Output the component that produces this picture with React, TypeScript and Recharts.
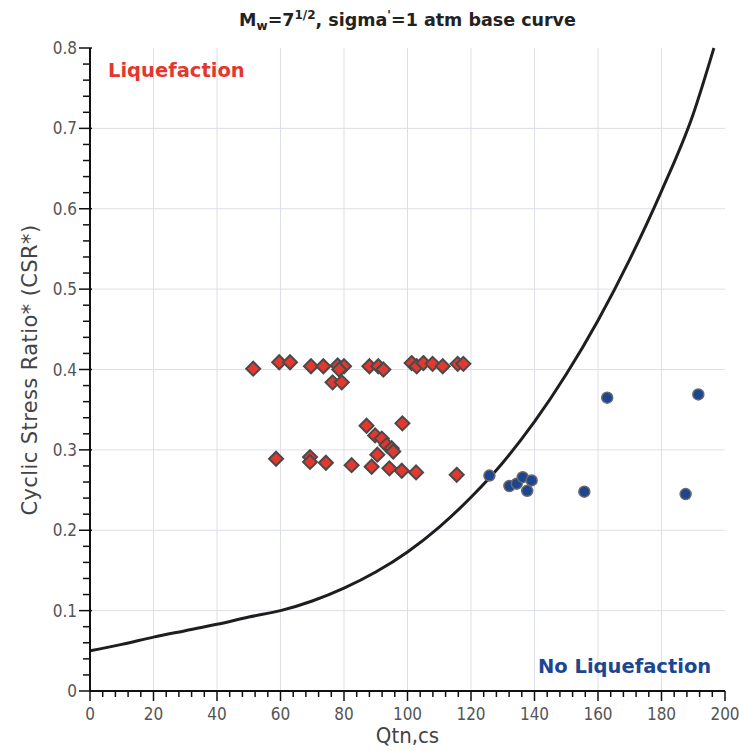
import React from "react"
import {
  ComposedChart,
  Line,
  Scatter,
  XAxis,
  YAxis,
  ReferenceLine,
} from "recharts"

// base curve (Qtn,cs vs CSR*)
const curveQ = [0, 10, 20, 30, 40, 50, 60, 70, 80, 90, 100, 110, 120, 130, 140, 150, 160, 170, 180, 190, 196.5]
const curveCSR = [0.05, 0.058, 0.067, 0.075, 0.083, 0.092, 0.1, 0.112, 0.128, 0.148, 0.173, 0.204, 0.241, 0.284, 0.335, 0.394, 0.461, 0.537, 0.622, 0.718, 0.8]

// liquefaction cases (red diamonds)
const liqQ = [51.4, 59.6, 63.0, 69.6, 73.5, 78.0, 80.0, 78.5, 76.4, 79.3, 88.0, 90.8, 92.4, 101.3, 102.9, 105.0, 107.9, 111.1, 115.8, 117.6,
  87.1, 98.4, 89.8, 91.9, 93.4, 95.0, 95.5, 90.5, 58.6, 69.3, 69.3, 74.3, 82.4, 88.7, 94.3, 98.2, 102.7, 115.5]
const liqCSR = [0.401, 0.409, 0.409, 0.404, 0.404, 0.405, 0.404, 0.4, 0.384, 0.384, 0.404, 0.404, 0.4, 0.408, 0.404, 0.408, 0.407, 0.404, 0.407, 0.407,
  0.33, 0.333, 0.318, 0.314, 0.306, 0.302, 0.298, 0.294, 0.289, 0.291, 0.285, 0.284, 0.281, 0.279, 0.277, 0.274, 0.272, 0.269]

// no liquefaction cases (blue circles)
const noLiqQ = [125.8, 132.1, 134.4, 136.3, 139.1, 137.7, 155.7, 162.9, 191.6, 187.6]
const noLiqCSR = [0.268, 0.255, 0.258, 0.266, 0.262, 0.249, 0.248, 0.365, 0.369, 0.245]

const xMajor = [0, 20, 40, 60, 80, 100, 120, 140, 160, 180, 200]
const yMajor = [0, 0.1, 0.2, 0.3, 0.4, 0.5, 0.6, 0.7, 0.8]
const xMinor = Array.from({ length: 51 }, (_, i) => i * 4)
const yMinor = Array.from({ length: 41 }, (_, i) => Math.round(i * 2) / 100)
const xTop = Array.from({ length: 15 }, (_, i) => (i + 1) * 12.5)
const yRight = Array.from({ length: 31 }, (_, i) => Math.round((i + 1) * 25) / 1000)

const curve = curveQ.map((q, i) => ({ x: q, y: curveCSR[i] }))
const liq = liqQ.map((q, i) => ({ x: q, y: liqCSR[i] }))
const noLiq = noLiqQ.map((q, i) => ({ x: q, y: noLiqCSR[i] }))

const TICK_FONT = "'DejaVu Sans Condensed', 'DejaVu Sans', sans-serif"
const isMajor = (v: number, list: number[]) => list.some((m) => Math.abs(m - v) < 1e-6)

// use the full window, the reference reaches its right and bottom edges
document.body.style.margin = "0"

const XTick = (props: any) => {
  const { x, y, payload } = props
  const major = isMajor(payload.value, xMajor)
  return (
    <g>
      <line x1={x} x2={x} y1={y} y2={y + (major ? 10 : 6)} stroke="#111" strokeWidth={1.5} />
      {major && (
        <text x={x} y={y + 29} textAnchor="middle" fontSize={17} fontFamily={TICK_FONT} fill="#555">
          {payload.value}
        </text>
      )}
    </g>
  )
}

const YTick = (props: any) => {
  const { x, y, payload } = props
  const major = isMajor(payload.value, yMajor)
  return (
    <g>
      <line x1={x - (major ? 11 : 7)} x2={x + (major ? 2 : 0)} y1={y} y2={y} stroke="#111" strokeWidth={1.5} />
      {major && (
        <text x={x - 13} y={y + 6} textAnchor="end" fontSize={17} fontFamily={TICK_FONT} fill="#555">
          {payload.value}
        </text>
      )}
    </g>
  )
}

const Diamond = (props: any) => {
  const { cx, cy } = props
  const r = 7
  return (
    <polygon
      points={`${cx},${cy - r} ${cx + r},${cy} ${cx},${cy + r} ${cx - r},${cy}`}
      fill="#e2382f"
      stroke="#4a4a4a"
      strokeWidth={2}
    />
  )
}

const Dot = (props: any) => {
  const { cx, cy } = props
  return <circle cx={cx} cy={cy} r={5.5} fill="#1d4690" stroke="#6a6a6a" strokeWidth={1.5} />
}

export default function App() {
  return (
    <div style={{ position: "relative", width: 739, height: 751, fontFamily: "'DejaVu Sans', sans-serif" }}>
      <ComposedChart width={739} height={751} margin={{ top: 48, right: 14, bottom: 8, left: 18 }}>
        {xMajor.slice(1, -1).map((v) => (
          <ReferenceLine key={`gx${v}`} x={v} stroke="#dcdfe8" strokeWidth={1} />
        ))}
        {yMajor.slice(1, -1).map((v) => (
          <ReferenceLine key={`gy${v}`} y={v} stroke="#dcdfe8" strokeWidth={1} />
        ))}
        <XAxis
          dataKey="x"
          type="number"
          domain={[0, 200]}
          ticks={xMinor}
          interval={0}
          height={52}
          tickSize={0}
          tickMargin={0}
          tickLine={false}
          tick={<XTick />}
          axisLine={{ stroke: "#111", strokeWidth: 2 }}
        />
        <XAxis
          xAxisId="top"
          orientation="top"
          type="number"
          domain={[0, 200]}
          ticks={xTop}
          interval={0}
          height={0}
          tickSize={5}
          tick={false}
          tickLine={{ stroke: "#111", strokeWidth: 1.5 }}
          axisLine={{ stroke: "#111", strokeWidth: 2 }}
        />
        <YAxis
          dataKey="y"
          type="number"
          domain={[0, 0.8]}
          ticks={yMinor}
          interval={0}
          width={72}
          tickSize={0}
          tickMargin={0}
          tickLine={false}
          tick={<YTick />}
          axisLine={{ stroke: "#111", strokeWidth: 2 }}
        />
        <YAxis
          yAxisId="right"
          orientation="right"
          type="number"
          domain={[0, 0.8]}
          ticks={yRight}
          interval={0}
          width={0}
          tickSize={5}
          tick={false}
          tickLine={{ stroke: "#111", strokeWidth: 1.5 }}
          axisLine={{ stroke: "#111", strokeWidth: 2 }}
        />
        <Line
          data={curve}
          dataKey="y"
          type="monotone"
          stroke="#1e1e1e"
          strokeWidth={3}
          dot={false}
          activeDot={false}
          isAnimationActive={false}
        />
        <Scatter data={liq} dataKey="y" shape={<Diamond />} isAnimationActive={false} />
        <Scatter data={noLiq} dataKey="y" shape={<Dot />} isAnimationActive={false} />
      </ComposedChart>

      <div
        style={{
          position: "absolute",
          left: 90,
          width: 635,
          top: 8,
          textAlign: "center",
          fontWeight: "bold",
          fontSize: 17.5,
          color: "#222",
          whiteSpace: "nowrap",
        }}
      >
        M<sub style={{ fontSize: 12 }}>w</sub>=7<sup style={{ fontSize: 12 }}>1/2</sup>, sigma
        <sup style={{ fontSize: 12 }}>'</sup>=1 atm base curve
      </div>
      <div
        style={{
          position: "absolute",
          left: 108,
          top: 59,
          fontWeight: "bold",
          fontSize: 19.5,
          color: "#e2382f",
        }}
      >
        Liquefaction
      </div>
      <div
        style={{
          position: "absolute",
          left: 538,
          top: 655,
          fontWeight: "bold",
          fontSize: 19.5,
          color: "#1d4690",
        }}
      >
        No Liquefaction
      </div>
      <div
        style={{
          position: "absolute",
          left: 30,
          top: 370,
          transform: "translate(-50%, -50%) rotate(-90deg)",
          fontSize: 21,
          letterSpacing: 0.4,
          color: "#444",
          whiteSpace: "nowrap",
        }}
      >
        Cyclic Stress Ratio* (CSR*)
      </div>
      <div
        style={{
          position: "absolute",
          left: 90,
          width: 635,
          top: 725,
          textAlign: "center",
          fontSize: 22,
          lineHeight: "22px",
          fontFamily: TICK_FONT,
          color: "#444",
        }}
      >
        Qtn,cs
      </div>
    </div>
  )
}
